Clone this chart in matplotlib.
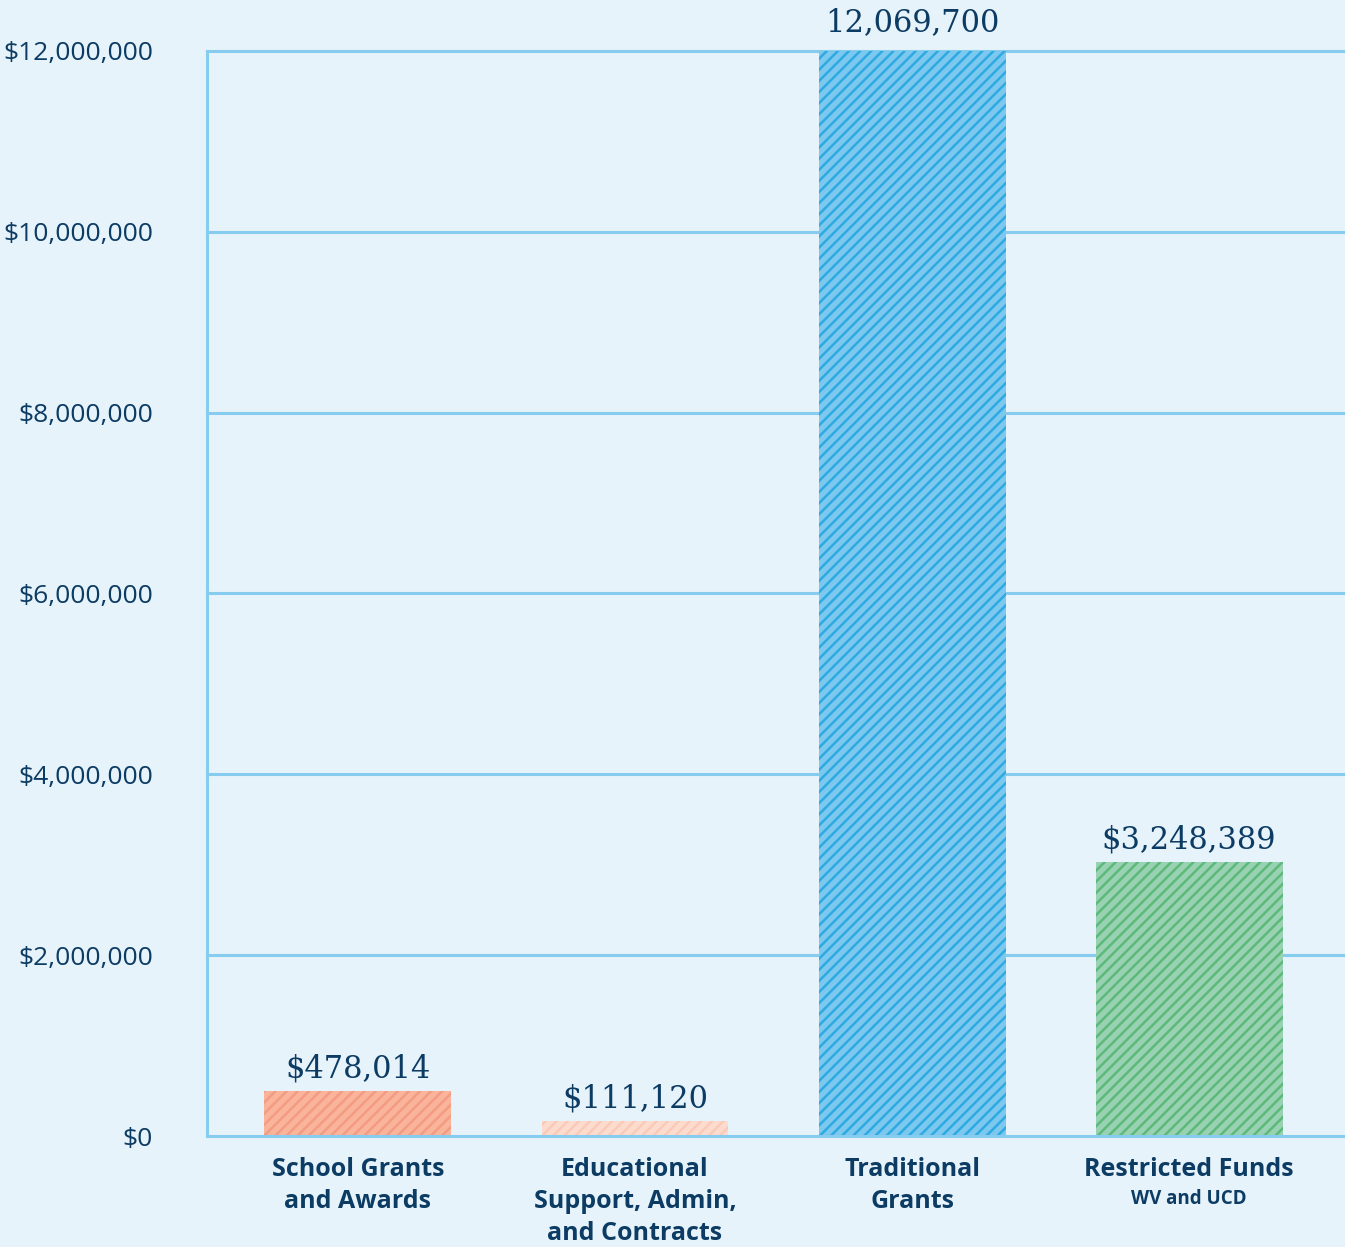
import matplotlib
matplotlib.use("Agg")
import matplotlib.pyplot as plt
from matplotlib.ticker import FuncFormatter

COLOUR_BG = "#E6F3FA"
COLOUR_GRID = "#86CCEE"
COLOUR_TEXT = "#0C3B63"
SANS = "Open Sans"

categories = ["School Grants\nand Awards",
              "Educational\nSupport, Admin,\nand Contracts",
              "Traditional\nGrants",
              "Restricted Funds"]
sublabels = ["", "", "", "WV and UCD"]
value_labels = ["$478,014", "$111,120", "12,069,700", "$3,248,389"]
# bar heights as drawn in the picture
bar_heights = [495000, 165000, 12069700, 3030000]
face_colours = ["#F9B49B", "#FDDCCF", "#7DC8EE", "#98D2B3"]
hatch_colours = ["#F39C82", "#FBCAB7", "#2DAAE2", "#5DB97A"]
y_ticks = [0, 2000000, 4000000, 6000000, 8000000, 10000000, 12000000]

plt.rcParams["hatch.linewidth"] = 1.8

fig = plt.figure(figsize=(13.45, 12.47), dpi=100)
fig.patch.set_facecolor(COLOUR_BG)
ax = fig.add_axes([207 / 1345, 1 - 1136 / 1247, 1 - 207 / 1345, (1136 - 51) / 1247])
ax.set_facecolor(COLOUR_BG)

x = list(range(len(categories)))
ax.set_xlim(-0.545, 3.563)
ax.set_ylim(0, 12000000)

for yt in y_ticks[1:]:
    ax.axhline(yt, color=COLOUR_GRID, lw=2.2, zorder=1, clip_on=False)

for i in x:
    ax.bar(i, bar_heights[i], width=0.675, color=face_colours[i],
           edgecolor=hatch_colours[i], linewidth=0, hatch="///", zorder=2)
    ax.annotate(value_labels[i], (i, bar_heights[i]), xytext=(0, 5), textcoords="offset points",
                ha="center", va="bottom", fontsize=22, family="DejaVu Serif",
                color=COLOUR_TEXT, annotation_clip=False)

ax.axhline(0, color=COLOUR_GRID, lw=2.2, zorder=3, clip_on=False)

for s in ["top", "right", "bottom"]:
    ax.spines[s].set_visible(False)
ax.spines["left"].set_color(COLOUR_GRID)
ax.spines["left"].set_linewidth(2.2)

ax.set_yticks(y_ticks)
ax.yaxis.set_major_formatter(FuncFormatter(lambda v, p: f"${v:,.0f}"))
ax.tick_params(axis="y", length=0, pad=39, labelsize=19, labelcolor=COLOUR_TEXT)
for lab in ax.get_yticklabels():
    lab.set_family(SANS)

ax.set_xticks(x)
ax.set_xticklabels(categories, family=SANS, fontweight="bold", fontsize=18,
                   color=COLOUR_TEXT, linespacing=1.36)
ax.tick_params(axis="x", length=0, pad=15)

for i in x:
    if sublabels[i]:
        ax.annotate(sublabels[i], (i, 0), xytext=(0, -38), textcoords="offset points",
                    ha="center", va="top", fontsize=13.5, family=SANS,
                    fontweight="bold", color=COLOUR_TEXT, annotation_clip=False)

fig.savefig("out.png", dpi=100, facecolor=COLOUR_BG)
